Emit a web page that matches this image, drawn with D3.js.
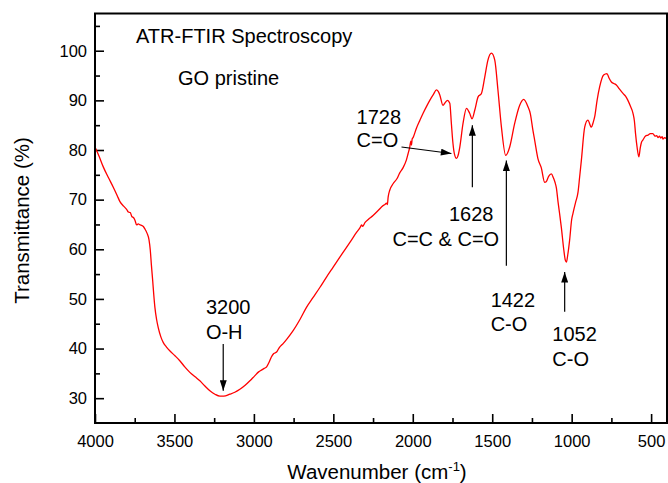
<!DOCTYPE html>
<html>
<head>
<meta charset="utf-8">
<script src="https://cdn.jsdelivr.net/npm/d3@7"></script>
<style>
  body { margin: 0; background: #fff; }
  svg { display: block; }
  text { font-family: "Liberation Sans", Arial, sans-serif; fill: #000; }
</style>
</head>
<body>
<div id="chart"></div>
<script>
// wavenumber (cm-1) and transmittance (%)
const wavenumber = [
    4000, 3975, 3948, 3915, 3885, 3860, 3843, 3820, 3800, 3790, 3778, 3768, 3758, 3748, 3738,
    3728, 3716, 3706, 3696, 3686, 3672, 3660, 3652, 3645, 3637, 3630, 3623, 3612, 3602, 3585,
    3570, 3550, 3528, 3495, 3465, 3435, 3403, 3370, 3340, 3310, 3277, 3245, 3214, 3190, 3151,
    3120, 3088, 3055, 3025, 2995, 2970, 2950, 2935, 2920, 2905, 2890, 2875, 2857, 2840, 2816,
    2790, 2753, 2711, 2669, 2627, 2585, 2543, 2501, 2459, 2417, 2385, 2354, 2333, 2322, 2316,
    2300, 2280, 2250, 2218, 2187, 2175, 2166, 2160, 2155, 2145, 2124, 2100, 2082, 2060, 2040,
    2030, 2019, 2012, 2008, 2004, 1998, 1977, 1955, 1935, 1910, 1893, 1870, 1851, 1840, 1830,
    1810, 1795, 1782, 1767, 1757, 1747, 1738, 1725, 1715, 1704, 1684, 1662, 1642, 1627, 1610,
    1589, 1568, 1547, 1527, 1505, 1484, 1464, 1442, 1415, 1390, 1359, 1327, 1302, 1275, 1260,
    1244, 1233, 1212, 1191, 1170, 1160, 1145, 1128, 1115, 1105, 1096, 1086, 1076, 1065, 1050,
    1040, 1033, 1025, 1013, 1000, 992, 975, 960, 950, 939, 918, 898, 876, 865, 855,
    840, 824, 799, 778, 765, 750, 735, 719, 700, 677, 660, 646, 630, 614, 605,
    598, 588, 577, 568, 560, 552, 535, 520, 505, 489, 475, 465, 457, 447, 440,
    430, 426, 415, 405
];
const transmittance = [
    80.6, 78.8, 76.6, 74.4, 72.5, 70.8, 69.6, 68.7, 68.0, 67.5, 67.4, 66.6, 66.4, 65.8, 64.9,
    65.1, 64.9, 64.8, 64.6, 64.1, 63.2, 61.9, 59.8, 56.8, 53.7, 50.8, 48.3, 45.8, 44.2, 42.3,
    41.2, 40.3, 39.5, 38.5, 37.5, 36.3, 35.2, 34.3, 33.5, 32.5, 31.5, 30.8, 30.4, 30.4, 30.8,
    31.2, 31.8, 32.6, 33.5, 34.5, 35.3, 35.7, 36.0, 36.3, 37.2, 38.3, 39.0, 39.3, 40.2, 41.0,
    42.0, 43.6, 45.8, 48.3, 50.3, 52.3, 54.4, 56.4, 58.4, 60.4, 61.9, 63.4, 64.3, 64.9, 64.6,
    65.4, 66.0, 66.8, 67.8, 68.8, 69.0, 69.3, 69.0, 70.5, 71.9, 73.2, 74.2, 75.4, 76.5, 78.0,
    79.2, 80.6, 81.8, 81.0, 82.2, 82.5, 84.4, 86.0, 87.4, 89.0, 90.0, 91.2, 92.1, 91.8, 91.1,
    89.0, 89.6, 90.0, 89.4, 85.3, 81.3, 79.2, 78.3, 78.9, 80.6, 85.3, 88.4, 87.4, 86.3, 88.0,
    90.7, 91.4, 94.7, 98.1, 99.5, 98.1, 92.1, 84.6, 78.9, 80.6, 85.3, 89.0, 90.2, 88.7, 87.3,
    84.0, 82.0, 78.2, 76.4, 73.5, 73.6, 74.7, 75.2, 74.4, 73.5, 72.3, 69.6, 67.2, 64.4, 60.0,
    57.8, 57.4, 58.8, 61.8, 66.0, 67.2, 69.5, 71.5, 74.5, 77.9, 84.6, 86.0, 84.6, 85.5, 86.7,
    90.0, 92.7, 95.1, 95.4, 94.5, 93.7, 93.4, 93.1, 92.3, 91.4, 90.8, 90.0, 88.8, 87.4, 85.8,
    83.3, 80.5, 78.6, 80.5, 81.6, 82.0, 82.8, 83.0, 83.3, 83.3, 82.8, 82.9, 82.5, 82.8, 82.4,
    82.7, 82.2, 82.5, 82.3
];

const xTicks = [4000, 3500, 3000, 2500, 2000, 1500, 1000, 500];
const xMinor = [3750, 3250, 2750, 2250, 1750, 1250, 750];
const yTicks = [30, 40, 50, 60, 70, 80, 90, 100];
const yMinor = [35, 45, 55, 65, 75, 85, 95, 105];

// peak labels: text lines sit at (wn, t); arrows go from tail to tip
const peakLabels = [
    { text: "3200", wn: 3302, t: 47.0 },
    { text: "O-H", wn: 3302, t: 42.0 },
    { text: "1728", wn: 2354, t: 85.3 },
    { text: "C=O", wn: 2354, t: 80.6 },
    { text: "1628", wn: 1772, t: 65.7 },
    { text: "C=C & C=O", wn: 2128, t: 60.7 },
    { text: "1422", wn: 1510, t: 48.4 },
    { text: "C-O", wn: 1510, t: 43.6 },
    { text: "1052", wn: 1122, t: 41.6 },
    { text: "C-O", wn: 1122, t: 36.5 }
];
const peakArrows = [
    { from: [3193, 40.9], to: [3193, 31.5] },
    { from: [2071, 80.6], to: [1757, 79.3] },
    { from: [1625, 72.5], to: [1625, 85.0] },
    { from: [1411, 56.7], to: [1411, 77.9] },
    { from: [1044, 47.4], to: [1044, 55.4] }
];

const width = 668, height = 483;
const margin = { left: 95, top: 13.5, right: 1, bottom: 60 };
const plotW = width - margin.left - margin.right;
const plotH = height - margin.top - margin.bottom;

const svg = d3.select("#chart").append("svg")
    .attr("width", width)
    .attr("height", height);

const defs = svg.append("defs");
defs.append("marker")
    .attr("id", "head")
    .attr("markerUnits", "userSpaceOnUse")
    .attr("viewBox", "0 0 12 8")
    .attr("refX", 12)
    .attr("refY", 4)
    .attr("markerWidth", 12)
    .attr("markerHeight", 7)
    .attr("orient", "auto")
    .append("path")
    .attr("d", "M0,0 L12,4 L0,8 Z")
    .attr("fill", "#000");

const g = svg.append("g").attr("transform", `translate(${margin.left},${margin.top})`);

const x = d3.scaleLinear().domain([4000, 400]).range([0, plotW]);
const y = d3.scaleLinear().domain([25, 107.5]).range([plotH, 0]);

// ticks point inward
const xAxis = d3.axisBottom(x).tickValues(xTicks).tickFormat(d3.format("d"))
    .tickSizeInner(-9).tickSizeOuter(0).tickPadding(12);
const xAxisMinor = d3.axisBottom(x).tickValues(xMinor).tickSizeInner(-5).tickSizeOuter(0).tickFormat("");
const yAxis = d3.axisLeft(y).tickValues(yTicks).tickFormat(d3.format("d"))
    .tickSizeInner(-9).tickSizeOuter(0).tickPadding(8);
const yAxisMinor = d3.axisLeft(y).tickValues(yMinor).tickSizeInner(-5).tickSizeOuter(0).tickFormat("");

function styleAxis(sel) {
    sel.select(".domain").remove();
    sel.selectAll(".tick line").attr("stroke", "#000").attr("stroke-width", 1.6);
    sel.selectAll(".tick text")
        .style("font-family", '"Liberation Sans", Arial, sans-serif')
        .style("font-size", "16.5px")
        .attr("fill", "#000");
}

g.append("g").attr("transform", `translate(0,${plotH})`).call(xAxis).call(styleAxis);
g.append("g").attr("transform", `translate(0,${plotH})`).call(xAxisMinor).call(styleAxis);
g.append("g").call(yAxis).call(styleAxis);
g.append("g").call(yAxisMinor).call(styleAxis);

// the spectrum
const points = wavenumber.map((w, i) => [w, transmittance[i]]);
const line = d3.line()
    .x((d) => x(d[0]))
    .y((d) => y(d[1]))
    .curve(d3.curveMonotoneX);

g.append("path")
    .datum(points)
    .attr("d", line)
    .attr("fill", "none")
    .attr("stroke", "#ff0000")
    .attr("stroke-width", 1.3)
    .attr("stroke-linejoin", "round");

// frame
g.append("rect")
    .attr("width", plotW)
    .attr("height", plotH)
    .attr("fill", "none")
    .attr("stroke", "#000")
    .attr("stroke-width", 2);

// arrows + labels
g.selectAll(".arrow")
    .data(peakArrows)
    .enter()
    .append("line")
    .attr("class", "arrow")
    .attr("x1", (d) => x(d.from[0]))
    .attr("y1", (d) => y(d.from[1]))
    .attr("x2", (d) => x(d.to[0]))
    .attr("y2", (d) => y(d.to[1]))
    .attr("stroke", "#000")
    .attr("stroke-width", 1.2)
    .attr("marker-end", "url(#head)");

g.selectAll(".peak")
    .data(peakLabels)
    .enter()
    .append("text")
    .attr("class", "peak")
    .attr("x", (d) => x(d.wn))
    .attr("y", (d) => y(d.t))
    .style("font-size", "20px")
    .text((d) => d.text);

// titles inside the plot
g.append("text")
    .attr("x", 136 - margin.left)
    .attr("y", 43 - margin.top)
    .style("font-size", "20px")
    .text("ATR-FTIR Spectroscopy");
g.append("text")
    .attr("x", 178 - margin.left)
    .attr("y", 85 - margin.top)
    .style("font-size", "20px")
    .text("GO pristine");

// axis titles
svg.append("text")
    .attr("transform", "translate(29,220.5) rotate(-90)")
    .attr("text-anchor", "middle")
    .style("font-size", "20.5px")
    .text("Transmittance (%)");

const xt = svg.append("text")
    .attr("x", margin.left + plotW / 2 - 4)
    .attr("y", 479)
    .attr("text-anchor", "middle")
    .style("font-size", "20.5px");
xt.append("tspan").text("Wavenumber (cm");
xt.append("tspan").attr("dy", -8).style("font-size", "13px").text("-1");
xt.append("tspan").attr("dy", 8).text(")");
</script>
</body>
</html>
